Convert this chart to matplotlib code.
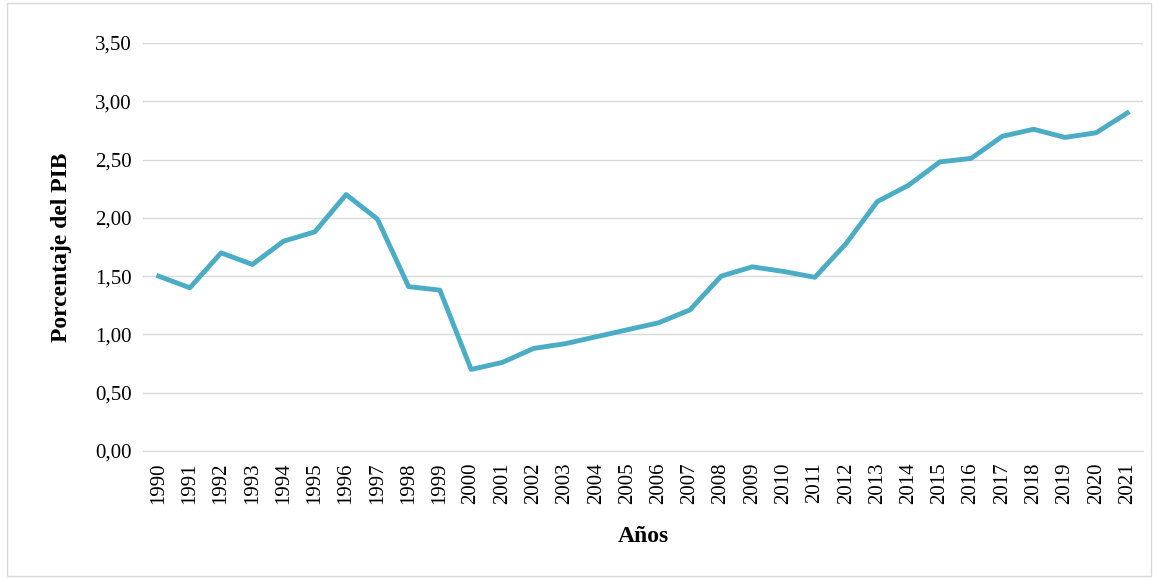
import matplotlib
matplotlib.use("Agg")
import matplotlib.pyplot as plt
from matplotlib.patches import Rectangle

years = [str(y) for y in range(1990, 2022)]
values = [1.50, 1.40, 1.70, 1.60, 1.80, 1.88, 2.20, 1.99, 1.41, 1.38, 0.70, 0.76,
          0.88, 0.92, 0.98, 1.04, 1.10, 1.21, 1.50, 1.58, 1.54, 1.49, 1.78, 2.14,
          2.28, 2.48, 2.51, 2.70, 2.76, 2.69, 2.73, 2.90]
yticks = [0, 0.5, 1.0, 1.5, 2.0, 2.5, 3.0, 3.5]

plt.rcParams['font.family'] = ['Liberation Serif', 'DejaVu Serif']
fig = plt.figure(figsize=(11.58, 5.78), dpi=100)
fig.patches.append(Rectangle((0.006, 0.004), 0.988, 0.99, transform=fig.transFigure,
                             fill=False, edgecolor='#d9d9d9', linewidth=1))
ax = fig.add_axes([143/1158, 1-451/578, 1000/1158, 408/578])
x = list(range(len(years)))
ax.plot(x, values, color='#4BACC6', linewidth=3.5, solid_joinstyle='round')
ax.set_xlim(-0.5, len(years)-0.5)
ax.set_ylim(0, 3.5)
ax.set_yticks(yticks)
ax.set_yticklabels([f"{v:.2f}".replace('.', ',') for v in yticks], fontsize=15)
ax.set_xticks(x)
ax.set_xticklabels(years, rotation=90, fontsize=15)
ax.grid(axis='y', color='#d9d9d9', linewidth=1)
ax.set_axisbelow(True)
for s in ['top', 'right', 'left']:
    ax.spines[s].set_visible(False)
ax.spines['bottom'].set_color('#d9d9d9')
ax.tick_params(length=0, pad=8)
ax.set_ylabel('Porcentaje del PIB', fontsize=17, fontweight='bold', labelpad=17)
ax.set_xlabel('Años', fontsize=17, fontweight='bold', labelpad=16)
fig.savefig('out.png', dpi=100)
